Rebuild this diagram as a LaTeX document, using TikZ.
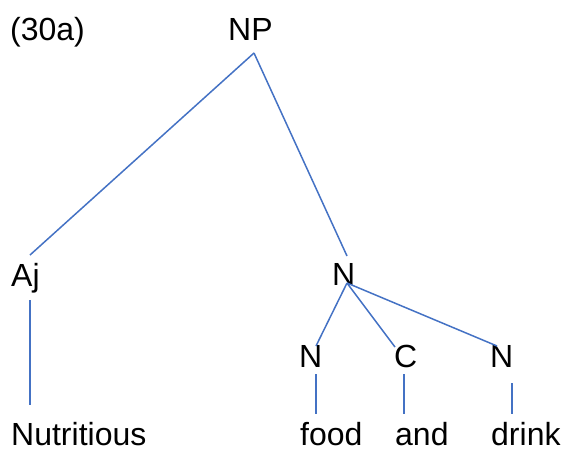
\documentclass[tikz,border=0pt]{standalone}
\usepackage{fontspec}
\setmainfont{Liberation Sans}
\definecolor{lineblue}{HTML}{4472C4}
\begin{document}
\begin{tikzpicture}[x=1pt,y=-1pt,
  lbl/.style={anchor=base west,inner sep=0pt,font=\fontsize{32}{38}\selectfont},
  edge/.style={draw=lineblue,line width=1.5pt}]
\useasboundingbox (0,0) rectangle (566,451);
% labels
\node[lbl] (ex) at (10,40) {(30a)};
\node[lbl] (NP) at (228,40) {NP};
\node[lbl] (Aj) at (11,286) {Aj};
\node[lbl] (Nm) at (332,285) {N};
\node[lbl] (N1) at (299,367) {N};
\node[lbl] (C) at (394,367) {C};
\node[lbl] (N2) at (490,367) {N};
\node[lbl] (w1) at (11,445) {Nutritious};
\node[lbl] (w2) at (300,445) {food};
\node[lbl] (w3) at (395,445) {and};
\node[lbl] (w4) at (491,445) {drink};
% connector ends
\coordinate (NPb) at (254,53);
\coordinate (Ajt) at (30,255);
\coordinate (Ajb) at (30,300);
\coordinate (Nmt) at (347,256);
\coordinate (Nmb) at (347,283);
\coordinate (N1t) at (316,346);
\coordinate (N1b) at (316,374);
\coordinate (Ct) at (395,347);
\coordinate (Cb) at (404,374);
\coordinate (N2t) at (497,346);
\coordinate (N2b) at (512,383);
\coordinate (w1t) at (30,405);
\coordinate (w2t) at (316,414);
\coordinate (w3t) at (404,414);
\coordinate (w4t) at (512,414);
% connectors
\draw[edge] (NPb) -- (Ajt);
\draw[edge] (NPb) -- (Nmt);
\draw[edge] (Ajb) -- (w1t);
\draw[edge] (Nmb) -- (N1t);
\draw[edge] (Nmb) -- (Ct);
\draw[edge] (Nmb) -- (N2t);
\draw[edge] (N1b) -- (w2t);
\draw[edge] (Cb) -- (w3t);
\draw[edge] (N2b) -- (w4t);
\end{tikzpicture}
\end{document}
